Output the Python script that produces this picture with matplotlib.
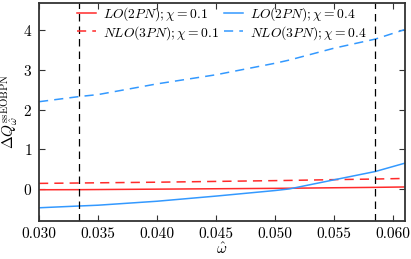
import numpy as np
import matplotlib
matplotlib.use("Agg")
import matplotlib.pyplot as plt

plt.rcParams['font.family'] = 'serif'
plt.rcParams['font.serif'] = ['cmr10']
plt.rcParams['mathtext.fontset'] = 'cm'
plt.rcParams['axes.formatter.use_mathtext'] = True
plt.rcParams['xtick.direction'] = 'in'
plt.rcParams['ytick.direction'] = 'in'
plt.rcParams['xtick.top'] = True
plt.rcParams['ytick.right'] = True

# values
omega = [0.030, 0.0334, 0.035, 0.040, 0.045, 0.050, 0.0512, 0.055, 0.0585, 0.061]
lo_01 = [-0.02, -0.018, -0.015, -0.005, 0.005, 0.015, 0.018, 0.03, 0.04, 0.05]
nlo_01 = [0.14, 0.15, 0.155, 0.17, 0.19, 0.21, 0.215, 0.235, 0.25, 0.265]
lo_04 = [-0.475, -0.43, -0.41, -0.31, -0.18, -0.04, 0.0, 0.23, 0.44, 0.65]
nlo_04 = [2.2, 2.33, 2.38, 2.65, 2.88, 3.17, 3.25, 3.55, 3.78, 4.02]
vlines = [0.0334, 0.0585]

red = '#ff2a2a'
blue = '#3399ff'

fig = plt.figure(figsize=(4.11, 2.59), dpi=100)
ax = fig.add_axes([0.095, 0.148, 0.89, 0.842])

ax.plot(omega, lo_01, color=red, lw=1.1, label=r'$LO(2PN);\chi=0.1$')
ax.plot(omega, nlo_01, color=red, lw=1.1, ls=(0, (6, 4)), label=r'$NLO(3PN);\chi=0.1$')
ax.plot(omega, lo_04, color=blue, lw=1.1, label=r'$LO(2PN);\chi=0.4$')
ax.plot(omega, nlo_04, color=blue, lw=1.1, ls=(0, (6, 4)), label=r'$NLO(3PN);\chi=0.4$')
for v in vlines:
    ax.axvline(v, color='k', lw=0.9, ls=(0, (6, 4)))

ax.set_xlim(0.030, 0.061)
ax.set_ylim(-0.8, 4.7)
ax.set_xticks([0.030, 0.035, 0.040, 0.045, 0.050, 0.055, 0.060])
ax.set_xticklabels(['0.030', '0.035', '0.040', '0.045', '0.050', '0.055', '0.060'])
ax.set_yticks([0, 1, 2, 3, 4])
ax.tick_params(labelsize=11, length=4, width=0.8, color='#333333', pad=5)
for s in ax.spines.values():
    s.set_linewidth(1.3)
    s.set_color('#333333')

ax.set_xlabel(r'$\hat{\omega}$', fontsize=11, labelpad=0)
ax.set_ylabel(r'$\Delta Q_{\hat{\omega}}^{\rm ssEOBPN}$', fontsize=11, labelpad=1)

ax.legend(loc='upper center', ncol=2, frameon=False, fontsize=9.8,
          handlelength=1.4, columnspacing=0.4, labelspacing=0.05,
          borderaxespad=0.0, handletextpad=0.5, borderpad=0.2)

fig.savefig('out.png', dpi=100)
